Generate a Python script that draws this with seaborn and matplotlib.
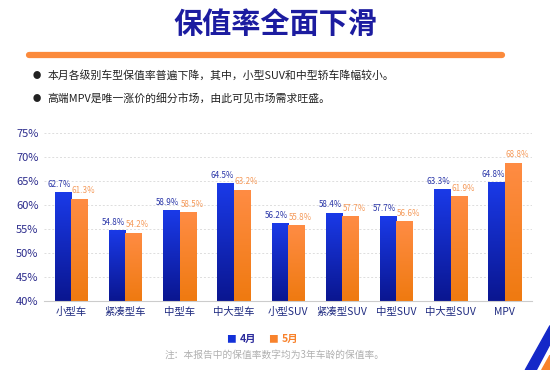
import numpy as np
import pandas as pd
import matplotlib
matplotlib.use("Agg")
import matplotlib.pyplot as plt
import seaborn as sns
from matplotlib.colors import LinearSegmentedColormap
from matplotlib.patches import Polygon

categories = ["小型车", "紧凑型车", "中型车", "中大型车", "小型SUV", "紧凑型SUV", "中型SUV", "中大型SUV", "MPV"]
april = [62.7, 54.8, 58.9, 64.5, 56.2, 58.4, 57.7, 63.3, 64.8]
may = [61.3, 54.2, 58.5, 63.2, 55.8, 57.7, 56.6, 61.9, 68.8]
months = ["4月", "5月"]
yticks = [40, 45, 50, 55, 60, 65, 70, 75]

sns.set_style("white")
plt.rcParams['font.family'] = ['Noto Sans CJK SC', 'DejaVu Sans']

df = pd.DataFrame({
    "cat": categories * 2,
    "month": [months[0]] * len(categories) + [months[1]] * len(categories),
    "rate": april + may,
})

blue = "#1230d8"
orange = "#f8822c"
fig = plt.figure(figsize=(5.5, 3.7), dpi=100)
ax = fig.add_axes([0.08, 0.1865, 0.887, 0.454])
sns.barplot(data=df, x="cat", y="rate", hue="month", palette=[blue, orange],
            width=0.6, ax=ax, legend=False)

# gradient fill on each bar
cmaps = [LinearSegmentedColormap.from_list("b", ["#0a1690", "#1a3ae8"]),
         LinearSegmentedColormap.from_list("o", ["#ef7a10", "#ff8c44"])]
grad = np.linspace(0, 1, 100).reshape(-1, 1)
vals = [april, may]
for i, cont in enumerate(ax.containers):
    for bar, v in zip(cont, vals[i]):
        x0 = bar.get_x()
        w = bar.get_width()
        bar.set_facecolor("none")
        bar.set_edgecolor("none")
        im = ax.imshow(grad, cmap=cmaps[i], aspect="auto", origin="lower",
                       extent=[x0, x0 + w, 40, v], zorder=2)
        im.set_clip_path(bar)
        lc = "#2a36a8" if i == 0 else "#f59a5a"
        dx = -0.07 if i == 0 else 0.08
        ax.text(x0 + w / 2 + dx, v + 0.7, f"{v}%",
                ha="center", va="bottom", fontsize=5.8, color=lc, zorder=3)
ax.set_aspect("auto")
ax.set_xlim(-0.5, len(categories) - 0.5)
ax.set_ylim(40, 75)

ax.set_yticks(yticks)
ax.set_yticklabels([f"{t}%" for t in yticks], color="#2b2b8c", fontsize=8)
ax.set_xticks(range(len(categories)))
ax.set_xticklabels(categories, color="#1e2a80", fontsize=7.5)
ax.tick_params(axis="both", length=0, pad=4)
ax.set_xlabel("")
ax.set_ylabel("")
ax.yaxis.grid(True, color="#dddddd", linestyle=(0, (2, 2)), linewidth=0.7)
ax.set_axisbelow(True)
for s in ["top", "right", "left"]:
    ax.spines[s].set_visible(False)
ax.spines["bottom"].set_color("#cccccc")

# title block
fig.text(0.5, 0.935, "保值率全面下滑", ha="center", va="center", fontsize=21,
         fontweight="bold", color="#1c1ca0")
fig.add_artist(plt.Line2D([0.052, 0.913], [0.852, 0.852], color="#fb8a3c", linewidth=4.5,
                          transform=fig.transFigure))
fig.text(0.06, 0.795, "●", fontsize=6, color="#222222", va="center")
fig.text(0.087, 0.795, "本月各级别车型保值率普遍下降，其中，小型SUV和中型轿车降幅较小。",
         fontsize=7.8, color="#222222", va="center")
fig.text(0.06, 0.735, "●", fontsize=6, color="#222222", va="center")
fig.text(0.087, 0.735, "高端MPV是唯一涨价的细分市场，由此可见市场需求旺盛。",
         fontsize=7.8, color="#222222", va="center")

# legend
fig.text(0.42, 0.083, "■", fontsize=7, color=blue, va="center", ha="center")
fig.text(0.435, 0.083, months[0], fontsize=7.5, color="#2b2b9c", va="center", fontweight="bold")
fig.text(0.497, 0.083, "■", fontsize=7, color=orange, va="center", ha="center")
fig.text(0.512, 0.083, months[1], fontsize=7.5, color=orange, va="center", fontweight="bold")

fig.text(0.5, 0.04, "注：本报告中的保值率数字均为3年车龄的保值率。", ha="center", va="center",
         fontsize=7, color="#b0b0b0")

# corner stripes
fig.add_artist(Polygon([[0.955, 0.0], [1.0, 0.12], [1.0, 0.07], [0.975, 0.0]],
                       closed=True, color="#1428c8", transform=fig.transFigure))
fig.add_artist(Polygon([[0.985, 0.0], [1.0, 0.04], [1.0, 0.0]],
                       closed=True, color=orange, transform=fig.transFigure))

fig.savefig("out.png", dpi=100)
